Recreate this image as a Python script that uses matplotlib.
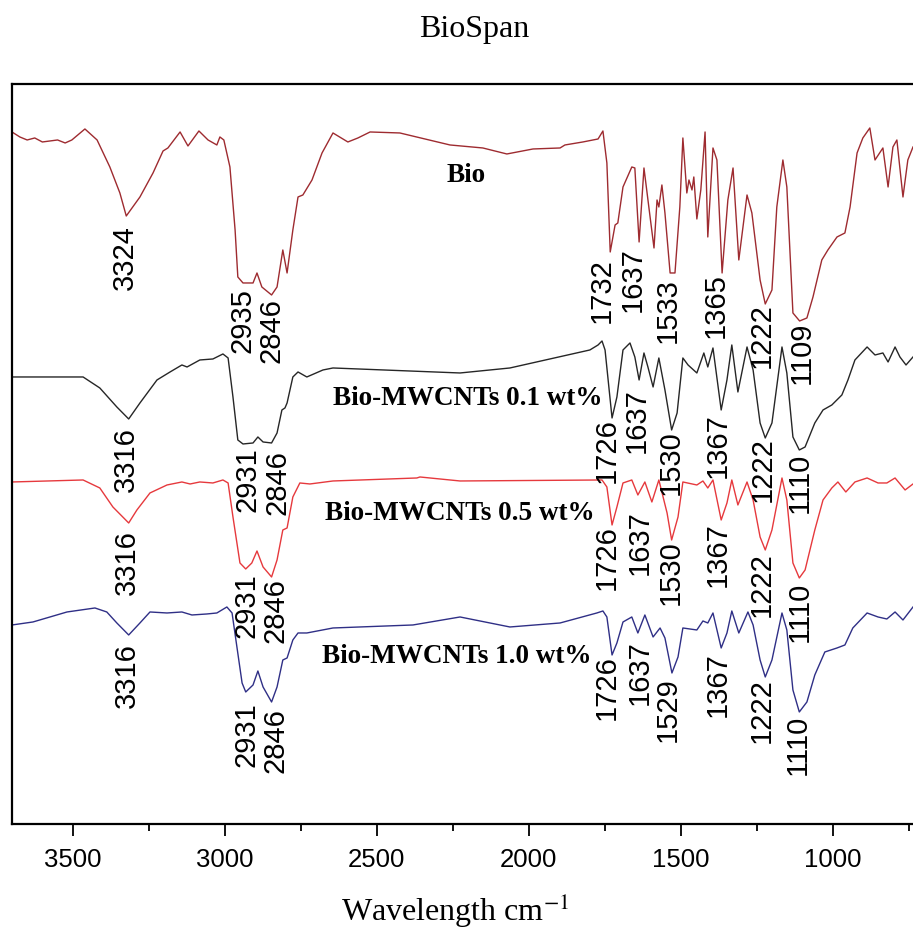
import matplotlib
matplotlib.use("Agg")
import matplotlib.pyplot as plt
from matplotlib.ticker import MultipleLocator

plt.rcParams['mathtext.fontset'] = 'stix'

# FTIR spectra, transmittance in arbitrary units (already stacked)
bio_wn = [3700, 3674, 3650, 3625, 3600, 3575, 3550, 3525, 3503, 3460, 3420, 3378, 3345, 3324,
          3279, 3236, 3203, 3187, 3147, 3121, 3085, 3055, 3026, 3016, 3003, 2983, 2966, 2957,
          2940, 2907, 2894, 2878, 2846, 2828, 2809, 2795, 2776, 2759, 2743, 2713, 2680, 2644,
          2595, 2562, 2522, 2424, 2259, 2151, 2072, 1986, 1897, 1881, 1822, 1772, 1756, 1743,
          1732, 1716, 1707, 1690, 1661, 1651, 1637, 1621, 1605, 1588, 1578, 1572, 1562, 1552,
          1535, 1519, 1503, 1493, 1480, 1473, 1463, 1457, 1447, 1434, 1420, 1411, 1394, 1381,
          1364, 1345, 1328, 1309, 1282, 1266, 1239, 1222, 1200, 1184, 1164, 1151, 1131, 1109,
          1085, 1065, 1036, 1016, 986, 960, 943, 920, 901, 878, 861, 835, 818, 802, 789, 769,
          753, 736]
bio_t = [692, 687, 684, 686, 682, 683, 684, 681, 684, 695, 684, 657, 631, 608,
         627, 651, 673, 676, 692, 678, 693, 684, 679, 687, 684, 657, 594, 547,
         541, 541, 551, 537, 529, 537, 574, 551, 594, 627, 629, 644, 671, 691,
         682, 686, 692, 691, 679, 676, 670, 675, 676, 679, 682, 685, 693, 661,
         572, 599, 601, 637, 657, 656, 582, 656, 617, 576, 624, 617, 639, 611,
         551, 551, 617, 686, 631, 644, 634, 647, 605, 634, 692, 587, 676, 664,
         551, 624, 656, 564, 629, 611, 544, 520, 534, 617, 664, 637, 511, 503,
         506, 527, 564, 574, 587, 591, 617, 671, 686, 696, 664, 676, 637, 677, 684, 627,
         664, 677]

cnt01_wn = [3700, 3466, 3411, 3355, 3316, 3279, 3223, 3180, 3141, 3124, 3082, 3039, 3006, 2989,
            2973, 2957, 2940, 2907, 2891, 2874, 2846, 2828, 2812, 2802, 2795, 2776, 2759, 2730,
            2677, 2644, 2226, 2062, 1799, 1772, 1759, 1749, 1726, 1710, 1690, 1667, 1651, 1637,
            1621, 1608, 1591, 1572, 1552, 1530, 1512, 1493, 1476, 1447, 1424, 1411, 1394, 1367,
            1348, 1332, 1312, 1282, 1262, 1239, 1222, 1200, 1167, 1151, 1131, 1110, 1091, 1059,
            1032, 1003, 970, 950, 927, 887, 861, 835, 818, 795, 779, 759, 736]
cnt01_t = [447, 447, 436, 417, 405, 421, 444, 452, 459, 457, 464, 465, 470, 466,
           427, 384, 380, 381, 387, 382, 381, 391, 414, 416, 421, 447, 452, 447,
           454, 456, 451, 456, 474, 479, 483, 474, 406, 427, 474, 481, 467, 444,
           471, 457, 437, 466, 434, 394, 411, 466, 459, 451, 471, 457, 476, 414,
           444, 479, 432, 477, 454, 401, 386, 401, 477, 451, 387, 374, 377, 401,
           414, 419, 429, 444, 464, 477, 469, 471, 462, 477, 467, 459, 467]

cnt05_wn = [3700, 3466, 3411, 3368, 3316, 3289, 3246, 3190, 3141, 3114, 3082, 3039, 3006, 2989,
            2973, 2950, 2931, 2911, 2894, 2874, 2846, 2828, 2809, 2795, 2776, 2753, 2720, 2644,
            2368, 2358, 2226, 1759, 1743, 1726, 1710, 1690, 1661, 1641, 1618, 1595, 1572, 1545,
            1530, 1509, 1493, 1447, 1427, 1411, 1394, 1367, 1348, 1332, 1312, 1282, 1262, 1239,
            1222, 1200, 1167, 1151, 1131, 1110, 1091, 1059, 1032, 1003, 983, 957, 927, 887,
            851, 822, 795, 762, 736]
cnt05_t = [342, 344, 336, 317, 301, 314, 331, 339, 342, 340, 342, 341, 344, 341,
           307, 261, 255, 261, 273, 257, 247, 264, 294, 296, 327, 341, 340, 343,
           346, 347, 343, 344, 337, 299, 317, 341, 344, 329, 342, 322, 344, 311,
           284, 307, 342, 339, 343, 336, 344, 304, 321, 344, 319, 342, 324, 287,
           274, 294, 346, 324, 261, 246, 254, 294, 324, 336, 342, 332, 342, 346,
           341, 341, 346, 334, 340]

cnt10_wn = [3700, 3631, 3519, 3427, 3388, 3355, 3316, 3279, 3246, 3190, 3141, 3108, 3059, 3026,
            2993, 2976, 2960, 2943, 2931, 2907, 2891, 2874, 2846, 2828, 2809, 2795, 2776, 2759,
            2730, 2644, 2381, 2226, 2062, 1897, 1776, 1756, 1743, 1726, 1710, 1690, 1661, 1641,
            1618, 1591, 1568, 1552, 1529, 1509, 1493, 1447, 1427, 1411, 1394, 1367, 1348, 1332,
            1309, 1279, 1262, 1239, 1222, 1200, 1167, 1151, 1131, 1110, 1085, 1059, 1026, 986,
            960, 934, 887, 851, 822, 795, 769, 736]
cnt10_t = [199, 202, 212, 216, 212, 201, 189, 201, 212, 211, 212, 209, 210, 211,
           217, 211, 177, 141, 132, 139, 153, 137, 122, 137, 164, 166, 184, 191,
           191, 196, 199, 207, 197, 201, 211, 213, 207, 169, 181, 202, 207, 191,
           209, 187, 196, 186, 151, 167, 196, 194, 203, 201, 211, 176, 191, 213,
           191, 212, 199, 164, 147, 164, 211, 194, 134, 112, 122, 149, 172, 176,
           179, 196, 211, 207, 205, 212, 204, 217]

series_names = ["Bio", "Bio-MWCNTs 0.1 wt%", "Bio-MWCNTs 0.5 wt%", "Bio-MWCNTs 1.0 wt%"]
series_colors = ["#9e2b30", "#262626", "#e6393d", "#2f2f86"]

# series name placement (wavenumber of left edge, baseline)
name_x = [2272, 2644, 2670, 2680]
name_y = [642, 419, 304, 161]

# peak labels: text, wavenumber position, top of label
bio_peaks = ["3324", "2935", "2846", "1732", "1637", "1533", "1365", "1222", "1109"]
bio_peak_x = [3328, 2940, 2845, 1759, 1657, 1542, 1384, 1233, 1101]
bio_peak_y = [599, 536, 526, 566, 577, 546, 551, 521, 502]

cnt01_peaks = ["3316", "2931", "2846", "1726", "1637", "1530", "1367", "1222", "1110"]
cnt01_peak_x = [3325, 2924, 2828, 1743, 1644, 1532, 1378, 1230, 1108]
cnt01_peak_y = [397, 377, 374, 406, 436, 394, 411, 387, 371]

cnt05_peaks = ["3316", "2931", "2846", "1726", "1637", "1530", "1367", "1222", "1110"]
cnt05_peak_x = [3322, 2930, 2832, 1743, 1634, 1532, 1378, 1233, 1108]
cnt05_peak_y = [294, 251, 246, 299, 314, 284, 302, 272, 242]

cnt10_peaks = ["3316", "2931", "2846", "1726", "1637", "1529", "1367", "1222", "1110"]
cnt10_peak_x = [3322, 2930, 2832, 1743, 1634, 1542, 1378, 1233, 1114]
cnt10_peak_y = [181, 122, 116, 169, 184, 147, 172, 146, 109]

spectra = [(bio_wn, bio_t), (cnt01_wn, cnt01_t), (cnt05_wn, cnt05_t), (cnt10_wn, cnt10_t)]
peaks = [(bio_peaks, bio_peak_x, bio_peak_y), (cnt01_peaks, cnt01_peak_x, cnt01_peak_y),
         (cnt05_peaks, cnt05_peak_x, cnt05_peak_y), (cnt10_peaks, cnt10_peak_x, cnt10_peak_y)]

fig = plt.figure(figsize=(9.13, 9.32), dpi=100)
ax = fig.add_axes([0.0131, 0.1159, 0.9869, 0.794])

for (wn, t), col in zip(spectra, series_colors):
    ax.plot(wn, t, color=col, lw=1.0)

for (labs, px, py), col in zip(peaks, series_colors):
    for lab, x, y in zip(labs, px, py):
        ax.text(x, y, lab, rotation=90, ha='center', va='top', fontsize=21,
                family=['Liberation Sans Narrow', 'Liberation Sans'], color='black')

for name, x, y in zip(series_names, name_x, name_y):
    ax.text(x, y, name, ha='left', va='baseline', fontsize=19.5, fontweight='bold',
            family='Liberation Serif')

ax.set_xlim(3700, 736)
ax.set_ylim(0, 740)
ax.set_yticks([])
ax.xaxis.set_major_locator(MultipleLocator(500))
ax.xaxis.set_minor_locator(MultipleLocator(250))
ax.tick_params(axis='x', which='major', direction='out', length=8.5, width=1.3, pad=9,
               labelsize=18.5)
ax.tick_params(axis='x', which='minor', direction='out', length=5, width=1.3)
for lbl in ax.get_xticklabels():
    lbl.set_family('Liberation Sans')
for side in ['left', 'bottom', 'top']:
    ax.spines[side].set_linewidth(1.6)
ax.spines['right'].set_visible(False)

fig.text(0.498, 0.0115, "Wavelength cm$^{\\mathrm{-1}}$", ha='center', va='baseline',
         family='Liberation Serif', fontsize=23)
fig.text(0.519, 0.96, "BioSpan", ha='center', va='baseline', family='Liberation Serif', fontsize=23)

fig.savefig("out.png", dpi=100)
